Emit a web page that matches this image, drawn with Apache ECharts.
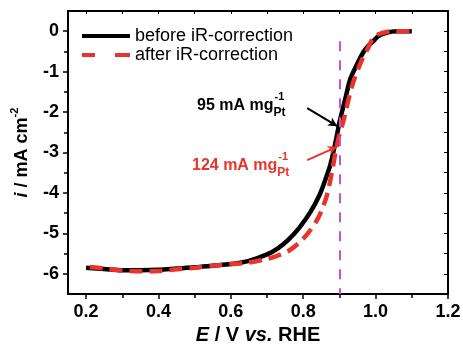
<!DOCTYPE html>
<html>
<head>
<meta charset="utf-8">
<script src="https://cdn.jsdelivr.net/npm/echarts@6/dist/echarts.min.js"></script>
<style>
html,body{margin:0;padding:0;background:#fff;}
#c{width:463px;height:344px;}
</style>
</head>
<body>
<div id="c"></div>
<script>
// ---- data ----
const beforeX = [0.20,0.25,0.30,0.35,0.40,0.45,0.50,0.55,0.60,0.65,0.70,0.73,0.76,0.79,0.82,0.845,0.86,0.875,0.889,0.902,0.916,0.93,0.949,0.966,0.98,0.991,1.005,1.013,1.03,1.045,1.06,1.10];
const beforeY = [-5.85,-5.88,-5.91,-5.91,-5.90,-5.87,-5.84,-5.80,-5.76,-5.68,-5.52,-5.37,-5.15,-4.85,-4.47,-4.05,-3.70,-3.30,-2.75,-2.18,-1.68,-1.18,-0.81,-0.52,-0.36,-0.27,-0.14,-0.09,-0.04,-0.01,0,0];
const afterX = [0.21,0.25,0.30,0.35,0.40,0.45,0.50,0.55,0.60,0.65,0.70,0.73,0.76,0.79,0.81,0.835,0.85,0.866,0.88,0.89,0.90,0.911,0.935,0.963,0.98,0.993,1.01,1.03,1.05,1.10];
const afterY = [-5.83,-5.87,-5.92,-5.94,-5.93,-5.89,-5.85,-5.80,-5.76,-5.72,-5.63,-5.55,-5.43,-5.22,-5.03,-4.72,-4.45,-4.04,-3.45,-2.95,-2.55,-2.22,-1.35,-0.69,-0.40,-0.17,-0.07,-0.02,0,0];
const seriesNames = ['before iR-correction','after iR-correction'];
const xTickLabels = [0.2,0.4,0.6,0.8,1.0,1.2];
const xMinorTicks = [0.3,0.5,0.7,0.9,1.1];
const xTopTicks = [0.2,0.3,0.4,0.5,0.6,0.7,0.8,0.9,1.0,1.1];
const yTickLabels = [-6,-5,-4,-3,-2,-1,0];
const yMinorTicks = [-5.5,-4.5,-3.5,-2.5,-1.5,-0.5];
const yRightTicks = [-6,-5.5,-5,-4.5,-4,-3.5,-3,-2.5,-2,-1.5,-1,-0.5,0];
const refPotential = 0.9;
const refLineRange = [-0.25,-6.5];
const annBlack = {text:'95 mA mg', from:[0.811,-1.90], to:[0.894,-2.35]};
const annRed = {text:'124 mA mg', from:[0.811,-3.19], to:[0.893,-2.86]};

const FONT = 'Liberation Sans, Arial, sans-serif';
const RED = '#e8342c';
const PURPLE = '#c852c8';

const chart = echarts.init(document.getElementById('c'), null, {renderer:'canvas'});

function pairs(xs, ys){ return xs.map((x,i)=>[x,ys[i]]); }

const tickLabelStyle = {color:'#000', fontFamily:FONT, fontWeight:'bold', fontSize:18};

const option = {
  animation:false,
  backgroundColor:'#fff',
  grid:{left:68, right:15, top:11, bottom:50, containLabel:false, outerBoundsMode:'none'},
  legend:{
    orient:'vertical', left:77, top:22, itemWidth:48, itemHeight:4, itemGap:1,
    textStyle:{color:'#000', fontFamily:FONT, fontSize:18},
    data:[
      {name:seriesNames[0], icon:'path://M0,0h48v4h-48z', itemStyle:{color:'#000'}},
      {name:seriesNames[1], icon:'path://M0,0h13v4h-13z M33,0h15v4h-15z', itemStyle:{color:RED}}
    ]
  },
  xAxis:[
    {type:'value', min:0.15, max:1.2, position:'bottom',
     axisLine:{show:true, onZero:false, lineStyle:{color:'#000', width:2}},
     axisTick:{show:true, inside:false, length:5, customValues:xTickLabels, lineStyle:{color:'#000', width:1.5}},
     axisLabel:{show:true, customValues:xTickLabels, margin:9, formatter:v=>v.toFixed(1), ...tickLabelStyle},
     splitLine:{show:false},
     name:'{it|E}{n| / V }{it|vs.}{n| RHE}', nameLocation:'middle', nameGap:30,
     nameTextStyle:{rich:{
       it:{fontFamily:FONT, fontSize:20, fontWeight:'bold', fontStyle:'italic', color:'#000'},
       n:{fontFamily:FONT, fontSize:20, fontWeight:'bold', color:'#000'}
     }}
    },
    {type:'value', min:0.15, max:1.2, position:'bottom',
     axisLine:{show:false, onZero:false},
     axisTick:{show:true, inside:false, length:4, customValues:xMinorTicks, lineStyle:{color:'#000', width:1.5}},
     axisLabel:{show:false}, splitLine:{show:false}},
    {type:'value', min:0.15, max:1.2, position:'top',
     axisLine:{show:true, onZero:false, lineStyle:{color:'#000', width:2}},
     axisTick:{show:true, inside:true, length:3, customValues:xTopTicks, lineStyle:{color:'#000', width:1}},
     axisLabel:{show:false}, splitLine:{show:false}}
  ],
  yAxis:[
    {type:'value', min:-6.5, max:0.5, position:'left',
     axisLine:{show:true, onZero:false, lineStyle:{color:'#000', width:2}},
     axisTick:{show:true, inside:false, length:5, customValues:yTickLabels, lineStyle:{color:'#000', width:1.5}},
     axisLabel:{show:true, customValues:yTickLabels, margin:9, formatter:v=>String(v), ...tickLabelStyle},
     splitLine:{show:false},
     name:'{it|i}{n| / mA cm}{sup|-2}', nameLocation:'middle', nameGap:37,
     nameTextStyle:{rich:{
       it:{fontFamily:FONT, fontSize:18, fontWeight:'bold', fontStyle:'italic', color:'#000', lineHeight:22, verticalAlign:'bottom'},
       n:{fontFamily:FONT, fontSize:18, fontWeight:'bold', color:'#000', lineHeight:22, verticalAlign:'bottom'},
       sup:{fontFamily:FONT, fontSize:11, fontWeight:'bold', color:'#000', lineHeight:22, verticalAlign:'top'}
     }}
    },
    {type:'value', min:-6.5, max:0.5, position:'left',
     axisLine:{show:false, onZero:false},
     axisTick:{show:true, inside:false, length:4, customValues:yMinorTicks, lineStyle:{color:'#000', width:1.5}},
     axisLabel:{show:false}, splitLine:{show:false}},
    {type:'value', min:-6.5, max:0.5, position:'right',
     axisLine:{show:true, onZero:false, lineStyle:{color:'#000', width:2}},
     axisTick:{show:true, inside:true, length:4, customValues:yRightTicks, lineStyle:{color:'#000', width:1}},
     axisLabel:{show:false}, splitLine:{show:false}}
  ],
  series:[
    {name:seriesNames[0], type:'line', data:pairs(beforeX,beforeY), smooth:0.3, showSymbol:false, symbol:'none',
     lineStyle:{color:'#000', width:4.5}, itemStyle:{color:'#000'}, z:3},
    {name:seriesNames[1], type:'line', data:pairs(afterX,afterY), smooth:0.3, showSymbol:false, symbol:'none',
     lineStyle:{color:RED, width:4.5, type:[13,7]}, itemStyle:{color:RED}, z:4},
    {name:'ref', type:'line', data:[], silent:true,
     markLine:{silent:true, symbol:['none','none'], label:{show:false},
       lineStyle:{color:PURPLE, width:2, type:[10,9]},
       data:[[{coord:[refPotential, refLineRange[0]]},{coord:[refPotential, refLineRange[1]]}]]}, z:2},
    {name:'arrows', type:'line', data:[], silent:true,
     markLine:{silent:true, symbol:['none','arrow'], symbolSize:[7,9], label:{show:false},
       data:[
         [{coord:annBlack.from, lineStyle:{color:'#000', width:2, type:'solid'}, itemStyle:{color:'#000'}},{coord:annBlack.to}],
         [{coord:annRed.from, lineStyle:{color:RED, width:2, type:'solid'}, itemStyle:{color:RED}},{coord:annRed.to}]
       ]}, z:5}
  ]
};
chart.setOption(option);

// annotation labels with stacked super/subscript
function measure(txt, font){
  const c = document.createElement('canvas').getContext('2d');
  c.font = font; return c.measureText(txt).width;
}
function annot(ann, color, x, y){
  const mainFont = 'bold 16px ' + FONT;
  const w = measure(ann.text, mainFont);
  return [
    {type:'text', x:x, y:y, style:{text:ann.text, font:mainFont, fill:color, textVerticalAlign:'middle'}, z:10},
    {type:'text', x:x+w+1, y:y-9, style:{text:'-1', font:'bold 11px ' + FONT, fill:color, textVerticalAlign:'middle'}, z:10},
    {type:'text', x:x+w, y:y+7, style:{text:'Pt', font:'bold 12px ' + FONT, fill:color, textVerticalAlign:'middle'}, z:10}
  ];
}
chart.setOption({graphic:[...annot(annBlack,'#000',197,106), ...annot(annRed,RED,192,166)]});
</script>
</body>
</html>
